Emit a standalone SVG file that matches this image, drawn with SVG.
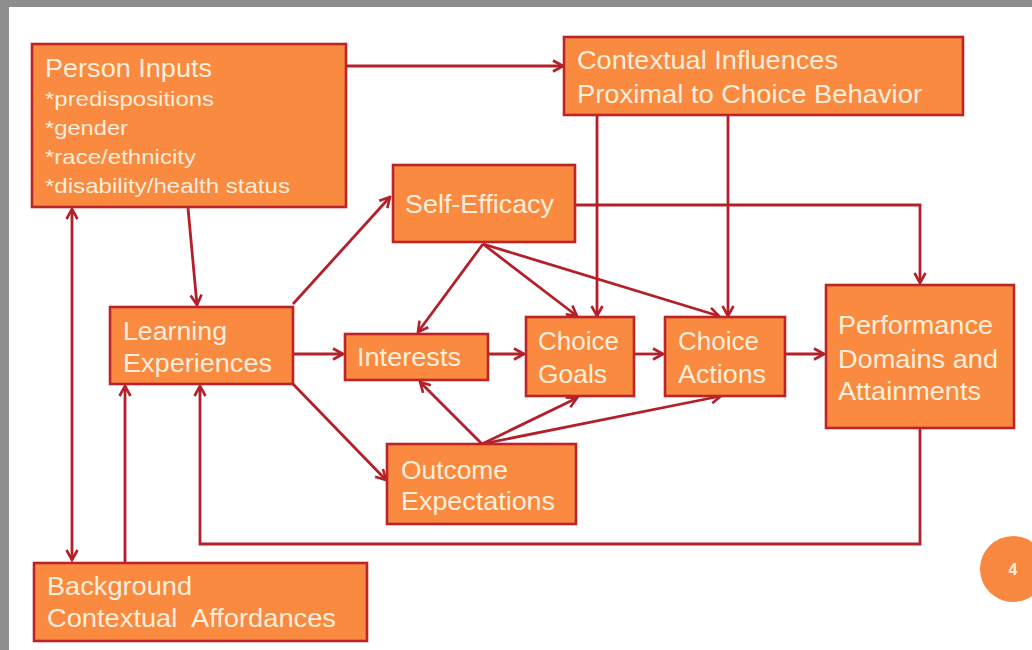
<svg xmlns="http://www.w3.org/2000/svg" width="1032" height="650" viewBox="0 0 1032 650">
<defs>
<style>
.box{fill:#f98a3f;stroke:#bd2429;stroke-width:2.6}
.t{font-family:"Liberation Sans",Arial,sans-serif;font-size:25px;fill:#fdeedc}
.s{font-size:21px}
.c{fill:none;stroke:#b3202a;stroke-width:2.8;marker-end:url(#ah)}
</style>
<marker id="ah" viewBox="0 0 14 14" refX="12" refY="7" markerWidth="14" markerHeight="14" markerUnits="userSpaceOnUse" orient="auto-start-reverse">
<path d="M2,1.5 L12,7 L2,12.5" fill="none" stroke="#b3202a" stroke-width="2.6"/>
</marker>
</defs>
<rect x="0" y="0" width="1032" height="650" fill="#ffffff"/>
<rect x="0" y="0" width="1032" height="7" fill="#8e8e8e"/>
<rect x="0" y="0" width="9" height="650" fill="#8e8e8e"/>
<g id="connectors">
<path class="c" d="M346,66 H563"/>
<path class="c" d="M188,208 L197,305"/>
<path class="c" d="M72,209 V560" style="marker-start:url(#ah)"/>
<path class="c" d="M125,562 V386"/>
<path class="c" d="M920,429 V544 H200 V386"/>
<path class="c" d="M293,304 L390,197"/>
<path class="c" d="M293,354 H343"/>
<path class="c" d="M293,384 L386,480"/>
<path class="c" d="M483,244 L418,332"/>
<path class="c" d="M483,244 L577,316"/>
<path class="c" d="M483,244 L719,316"/>
<path class="c" d="M575,205 H920 V283"/>
<path class="c" d="M597,115 V316"/>
<path class="c" d="M728,115 V316"/>
<path class="c" d="M488,354 H524"/>
<path class="c" d="M634,354 H663"/>
<path class="c" d="M785,354 H824"/>
<path class="c" d="M482,444 L420,382"/>
<path class="c" d="M482,444 L577,398"/>
<path class="c" d="M482,444 L721,396"/>
</g>
<g id="person-inputs">
<rect class="box" x="32" y="44" width="314" height="163"/>
<text class="t" x="45" y="77" textLength="167" lengthAdjust="spacingAndGlyphs">Person Inputs</text>
<text class="t s" x="45" y="106" textLength="169" lengthAdjust="spacingAndGlyphs">*predispositions</text>
<text class="t s" x="45" y="135" textLength="83" lengthAdjust="spacingAndGlyphs">*gender</text>
<text class="t s" x="45" y="164" textLength="151" lengthAdjust="spacingAndGlyphs">*race/ethnicity</text>
<text class="t s" x="45" y="193" textLength="245" lengthAdjust="spacingAndGlyphs">*disability/health status</text>
</g>
<g id="contextual-influences">
<rect class="box" x="564" y="37" width="399" height="78"/>
<text class="t" x="577" y="69" textLength="261" lengthAdjust="spacingAndGlyphs">Contextual Influences</text>
<text class="t" x="577" y="103" textLength="345" lengthAdjust="spacingAndGlyphs">Proximal to Choice Behavior</text>
</g>
<g id="self-efficacy">
<rect class="box" x="393" y="165" width="182" height="77"/>
<text class="t" x="405" y="213" textLength="149" lengthAdjust="spacingAndGlyphs">Self-Efficacy</text>
</g>
<g id="learning-experiences">
<rect class="box" x="110" y="307" width="183" height="77"/>
<text class="t" x="123" y="340" textLength="104" lengthAdjust="spacingAndGlyphs">Learning</text>
<text class="t" x="123" y="372" textLength="149" lengthAdjust="spacingAndGlyphs">Experiences</text>
</g>
<g id="interests">
<rect class="box" x="345" y="334" width="143" height="46"/>
<text class="t" x="357" y="366" textLength="104" lengthAdjust="spacingAndGlyphs">Interests</text>
</g>
<g id="choice-goals">
<rect class="box" x="526" y="317" width="108" height="79"/>
<text class="t" x="538" y="350" textLength="81" lengthAdjust="spacingAndGlyphs">Choice</text>
<text class="t" x="538" y="383" textLength="69" lengthAdjust="spacingAndGlyphs">Goals</text>
</g>
<g id="choice-actions">
<rect class="box" x="665" y="317" width="120" height="79"/>
<text class="t" x="678" y="350" textLength="81" lengthAdjust="spacingAndGlyphs">Choice</text>
<text class="t" x="678" y="383" textLength="88" lengthAdjust="spacingAndGlyphs">Actions</text>
</g>
<g id="performance">
<rect class="box" x="826" y="285" width="188" height="143"/>
<text class="t" x="838" y="334" textLength="155" lengthAdjust="spacingAndGlyphs">Performance</text>
<text class="t" x="838" y="368" textLength="160" lengthAdjust="spacingAndGlyphs">Domains and</text>
<text class="t" x="838" y="400" textLength="143" lengthAdjust="spacingAndGlyphs">Attainments</text>
</g>
<g id="outcome-expectations">
<rect class="box" x="387" y="444" width="189" height="80"/>
<text class="t" x="401" y="479" textLength="107" lengthAdjust="spacingAndGlyphs">Outcome</text>
<text class="t" x="401" y="510" textLength="154" lengthAdjust="spacingAndGlyphs">Expectations</text>
</g>
<g id="background-affordances">
<rect class="box" x="34" y="563" width="333" height="78"/>
<text class="t" x="47" y="595" textLength="145" lengthAdjust="spacingAndGlyphs">Background</text>
<text class="t" x="47" y="627" textLength="289" lengthAdjust="spacingAndGlyphs" style="white-space:pre">Contextual  Affordances</text>
</g>
<g id="page-number">
<circle cx="1013" cy="569" r="33" fill="#f8883f"/>
<text x="1013" y="575" text-anchor="middle" font-family="Liberation Sans,Arial,sans-serif" font-size="16" font-weight="bold" fill="#fdeedc">4</text>
</g>
</svg>
